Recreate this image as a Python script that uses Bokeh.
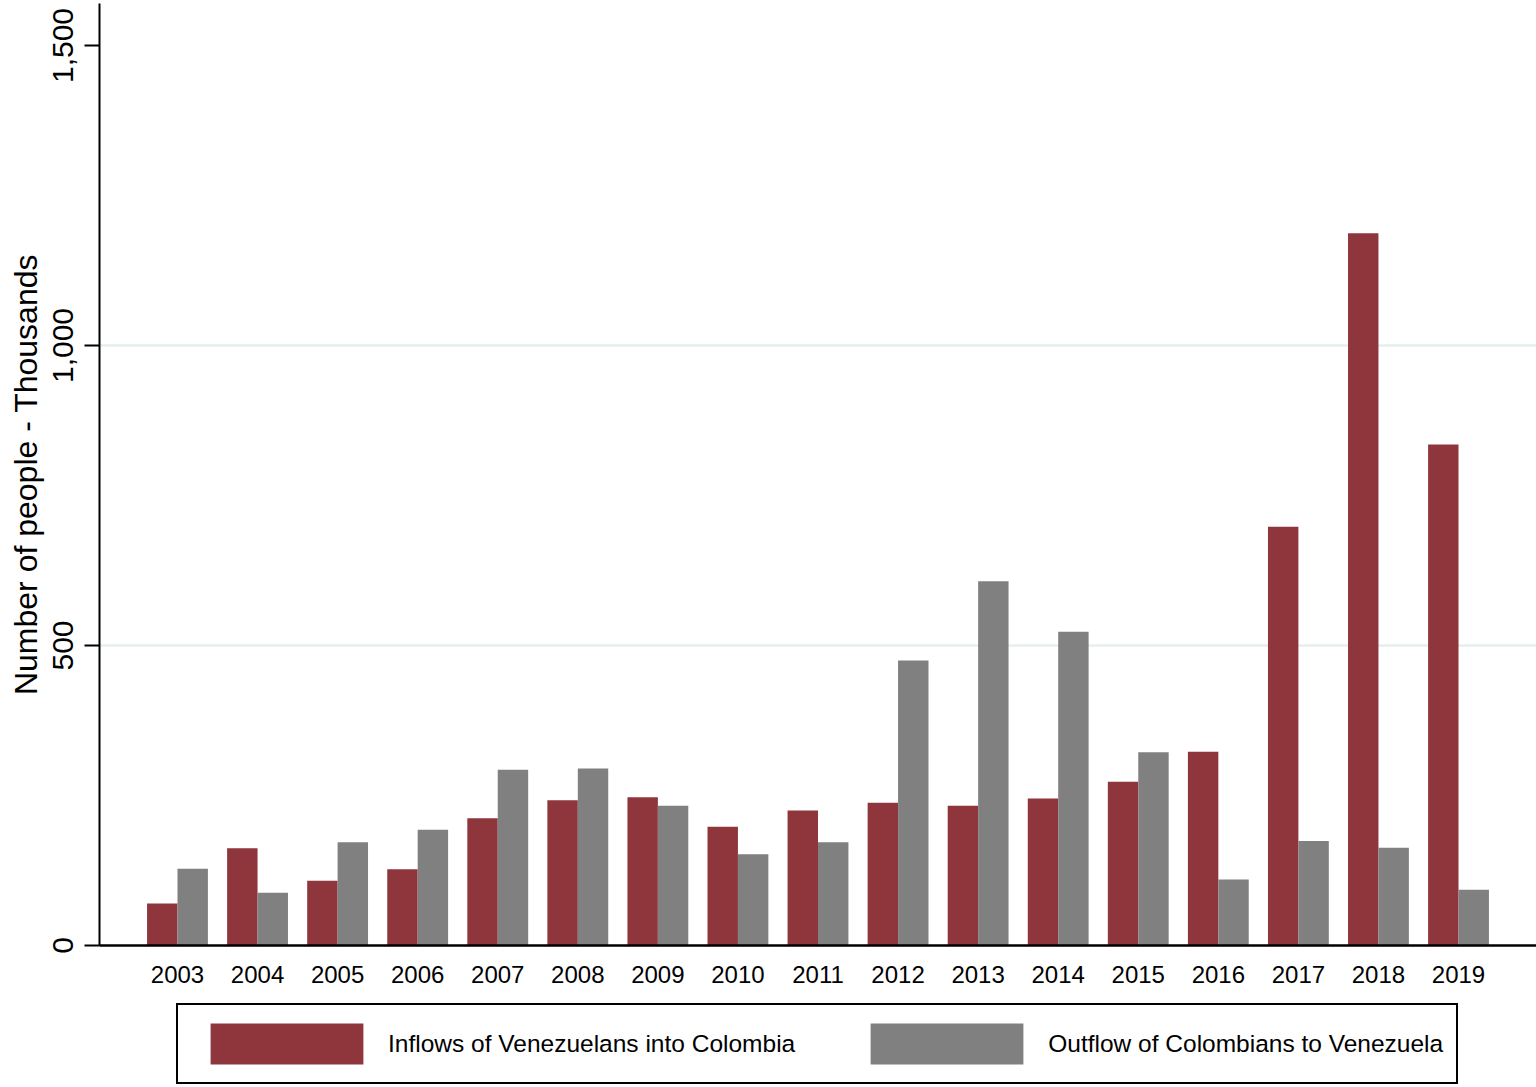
from bokeh.plotting import figure
from bokeh.layouts import column
from bokeh.models import (FixedTicker, NumeralTickFormatter, Legend, LegendItem,
                          ColumnDataSource, Range1d)
from bokeh.transform import dodge
from bokeh.embed import file_html
from bokeh.resources import INLINE

years = [2003, 2004, 2005, 2006, 2007, 2008, 2009, 2010, 2011, 2012,
         2013, 2014, 2015, 2016, 2017, 2018, 2019]
inflows = [70, 162, 108, 127, 212, 242, 247, 198, 225, 238,
           233, 245, 273, 323, 698, 1187, 835]
outflows = [128, 88, 172, 193, 293, 295, 233, 152, 172, 475,
            607, 523, 322, 110, 174, 163, 93]
y_ticks = [0, 500, 1000, 1500]
grid_ticks = [500, 1000]
series_labels = ["Inflows of Venezuelans into Colombia",
                 "Outflow of Colombians to Venezuela"]

FONT = "Liberation Sans"
RED = "#8f353c"
GRAY = "#808080"

src = ColumnDataSource(dict(year=years, inflows=inflows, outflows=outflows))

p = figure(width=1536, height=1002, frame_width=1437, frame_height=942,
           output_backend="svg", toolbar_location=None,
           x_range=Range1d(2002.026, 2019.974), y_range=Range1d(0, 1570),
           min_border_left=99, min_border_right=0, min_border_top=3,
           min_border_bottom=57)
p.outline_line_color = None
p.background_fill_color = "white"
p.border_fill_color = "white"

r1 = p.vbar(x=dodge("year", -0.19), top="inflows", width=0.38, source=src,
            fill_color=RED, line_color=None)
r2 = p.vbar(x=dodge("year", 0.19), top="outflows", width=0.38, source=src,
            fill_color=GRAY, line_color=None)

# grid
p.xgrid.visible = False
p.ygrid.ticker = FixedTicker(ticks=grid_ticks)
p.ygrid.grid_line_color = "#e6eff0"
p.ygrid.grid_line_width = 2.5

# x axis
xa = p.xaxis[0]
xa.ticker = FixedTicker(ticks=years)
xa.major_label_text_font = FONT
xa.major_label_text_font_size = "24px"
xa.major_label_text_color = "black"
xa.major_tick_line_color = None
xa.minor_tick_line_color = None
xa.axis_line_width = 2.5
xa.axis_line_color = "black"
xa.major_label_standoff = 14

# y axis
ya = p.yaxis[0]
ya.ticker = FixedTicker(ticks=y_ticks)
ya.formatter = NumeralTickFormatter(format="0,0")
ya.major_label_orientation = "vertical"
ya.major_label_text_font = FONT
ya.major_label_text_font_size = "30px"
ya.major_label_text_color = "black"
ya.major_tick_out = 15
ya.major_tick_in = 0
ya.major_tick_line_width = 2
ya.major_tick_line_color = "black"
ya.minor_tick_line_color = None
ya.axis_line_width = 2
ya.axis_line_color = "black"
ya.major_label_standoff = 12
ya.axis_label = "Number of people - Thousands"
ya.axis_label_text_font = FONT
ya.axis_label_text_font_size = "32px"
ya.axis_label_text_font_style = "normal"
ya.axis_label_text_color = "black"
ya.axis_label_standoff = 6

# legend panel (separate figure below the chart; its frame aligns with the chart's)
lg = figure(width=1536, height=83, output_backend="svg", toolbar_location=None,
            x_range=Range1d(0, 1), y_range=Range1d(0, 1),
            x_axis_location=None, y_axis_location=None,
            min_border=0, min_border_top=0, min_border_bottom=0)
lg.outline_line_color = None
lg.grid.visible = False
l1 = lg.vbar(x="year", top="inflows", width=0.38, source=src,
             fill_color=RED, line_color=None, visible=False)
l2 = lg.vbar(x="year", top="outflows", width=0.38, source=src,
             fill_color=GRAY, line_color=None, visible=False)

legend = Legend(items=[
    LegendItem(label=series_labels[0], renderers=[l1]),
    LegendItem(label=series_labels[1], renderers=[l2]),
], orientation="horizontal", location=(77, 1),
    glyph_width=191, glyph_height=51, label_standoff=6, spacing=56,
    padding=13, border_line_color="black", border_line_width=2,
    border_line_alpha=1.0, margin=0,
    label_text_font=FONT, label_text_font_size="24.5px",
    label_text_color="black", background_fill_color="white")
lg.add_layout(legend, "center")

layout = column(p, lg, spacing=0)
open("out.html", "w").write(file_html(layout, INLINE))
